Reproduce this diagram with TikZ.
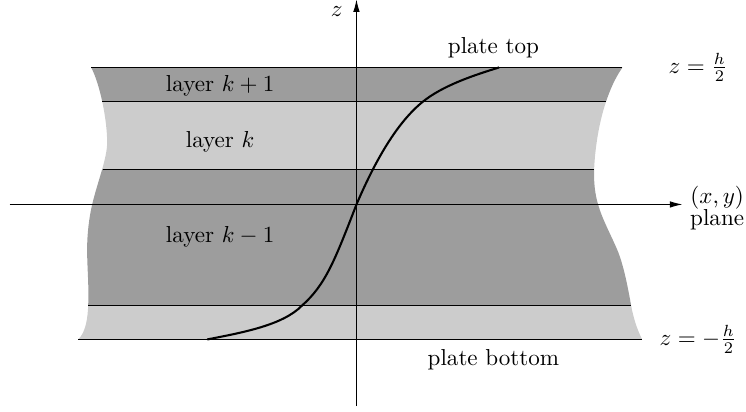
\documentclass[tikz,border=0pt]{standalone}
\usepackage{tikz}
\usetikzlibrary{arrows.meta}
\definecolor{layerdark}{gray}{0.615}
\definecolor{layerlight}{gray}{0.8}
\tikzset{axisline/.style={line width=0.4pt,-{Latex[length=1.9mm,width=1mm]}},
  plateline/.style={line width=0.4pt}}

\begin{document}
\begin{tikzpicture}[scale=1]
\useasboundingbox (-5.426,-3.159) rectangle (5.929,3.112);
\coordinate (T1) at (-4.039,2.085); \coordinate (T2) at (4.048,2.085);
\coordinate (U1) at (-3.871,1.568); \coordinate (U2) at (3.800,1.568);
\coordinate (M1) at (-3.856,0.533); \coordinate (M2) at (3.617,0.533);
\coordinate (N1) at (-4.084,-1.537); \coordinate (N2) at (4.180,-1.537);
\coordinate (B1) at (-4.237,-2.055); \coordinate (B2) at (4.348,-2.055);
\coordinate (Xa) at (-5.28,0); \coordinate (Xb) at (4.96,0);
\coordinate (Za) at (0,-3.07); \coordinate (Zb) at (0,3.12);
\begin{scope}
\clip (T1) .. controls (-3.91,1.85) and (-3.795,1.3) .. (-3.795,.944)
  .. controls (-3.795,.7) and (-3.94,.35) .. (-4.023,0)
  .. controls (-4.07,-.2) and (-4.10,-.45) .. (-4.10,-.685)
  .. controls (-4.10,-.95) and (-4.07,-1.25) .. (N1)
  .. controls (-4.09,-1.72) and (-4.12,-1.95) .. (B1)
  -- (B2) .. controls (4.26,-1.88) and (4.21,-1.7) .. (N2)
  .. controls (4.13,-1.25) and (4.06,-.9) .. (3.967,-.685)
  .. controls (3.88,-.48) and (3.73,-.2) .. (3.678,0)
  .. controls (3.63,.15) and (3.61,.35) .. (M2)
  .. controls (3.63,.85) and (3.69,1.25) .. (U2)
  .. controls (3.86,1.75) and (3.94,1.93) .. (T2) -- cycle;
\fill[layerdark] (-5,2.085) rectangle (5,1.568);
\fill[layerlight] (-5,1.568) rectangle (5,0.533);
\fill[layerdark] (-5,0.533) rectangle (5,-1.537);
\fill[layerlight] (-5,-1.537) rectangle (5,-2.055);
\end{scope}
\draw[plateline] (T1)--(T2); \draw[plateline] (U1)--(U2); \draw[plateline] (M1)--(M2);
\draw[plateline] (N1)--(N2); \draw[plateline] (B1)--(B2);
\draw[axisline] (Xa)--(Xb);
\draw[axisline] (Za)--(Zb);
\draw[line width=0.9pt] (-2.273,-2.055) .. controls (-1.74,-1.95) and (-1.12,-1.84) .. (-0.827,-1.537)
  .. controls (-0.47,-1.22) and (-0.33,-0.85) .. (0,0)
  .. controls (0.3,0.7) and (0.63,1.26) .. (1.015,1.568)
  .. controls (1.31,1.804) and (1.76,1.96) .. (2.171,2.085);
\node (zlabel) at (-0.30,2.94) {$z$};
\node (platetop) at (2.085,2.385) {plate top};
\node (platebottom) at (2.085,-2.36) {plate bottom};
\node (layerup) at (-2.075,1.80) {layer $k+1$};
\node (layermid) at (-2.075,0.96) {layer $k$};
\node (layerlow) at (-2.075,-0.49) {layer $k-1$};
\node (ztop) at (5.20,2.085) {$z=\frac{h}{2}$};
\node (zbottom) at (5.20,-2.055) {$z=-\frac{h}{2}$};
\node (xylabel) at (5.49,0.11) {$(x,y)$};
\node (planelabel) at (5.49,-0.24) {plane};
\end{tikzpicture}
\end{document}
